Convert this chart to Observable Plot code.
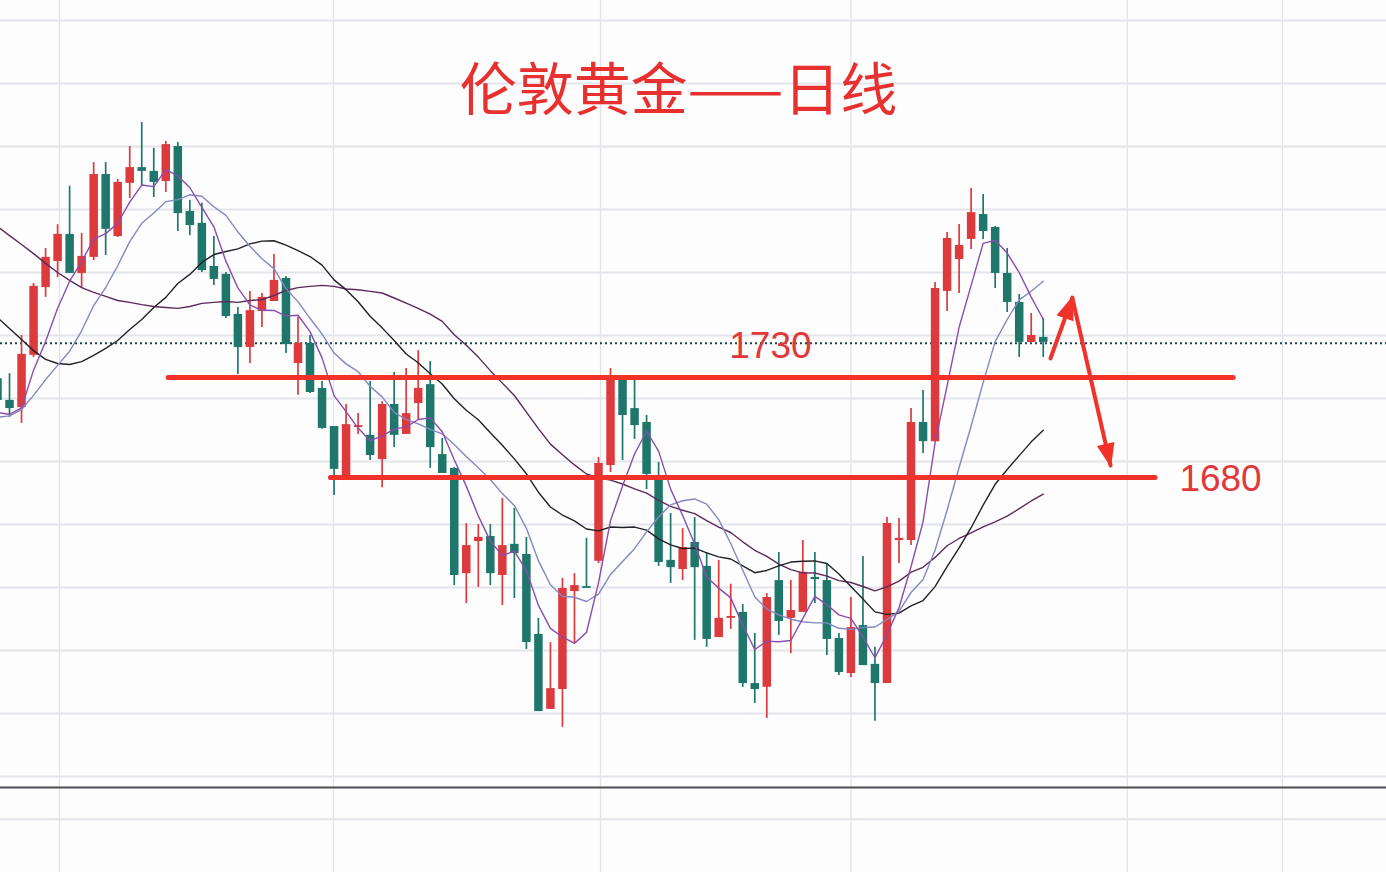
<!DOCTYPE html>
<html>
<head>
<meta charset="utf-8">
<script src="https://cdn.jsdelivr.net/npm/d3@7"></script>
<script src="https://cdn.jsdelivr.net/npm/@observablehq/plot@0.6"></script>
<style>
  html, body { margin: 0; padding: 0; background: #fdfdfe; overflow: hidden; }
  #chart svg { display: block; }
</style>
</head>
<body>
<div id="chart"></div>
<script>
// ---------------- data ----------------
const title = "伦敦黄金——日线";

const open = [1726.3,1719.4,1717.1,1733.7,1755.2,1763.5,1772.1,1759.7,1764.8,1791.1,
  1771.4,1788.3,1793.3,1792.1,1788.9,1800.0,1779.4,1775.6,1761.9,1759.4,
  1746.7,1736.2,1747.6,1750.8,1758.1,1731.1,1737.5,1723.2,1711.1,1694.9,
  1710.8,1708.3,1700.6,1718.1,1708.6,1718.4,1724.4,1702.2,1697.8,1664.4,
  1674.6,1676.2,1663.8,1673.7,1670.5,1645.1,1621.3,1627.6,1658.7,1660.2,
  1668.3,1698.7,1726.0,1716.8,1712.4,1694.9,1668.6,1665.7,1674.3,1666.7,
  1644.1,1650.2,1652.1,1629.5,1628.3,1662.2,1650.2,1652.1,1663.2,1662.2,
  1643.8,1632.7,1647.9,1635.6,1629.5,1674.9,1674.9,1712.4,1706.3,1754.0,
  1764.1,1770.5,1778.4,1774.3,1759.7,1750.5,1737.8,1739.4];
const high = [1728.3,1727.9,1740.0,1756.5,1767.6,1775.2,1787.4,1772.4,1794.9,1794.9,
  1789.5,1800.0,1807.6,1799.4,1801.6,1801.3,1782.9,1782.0,1771.4,1760.0,
  1748.9,1754.0,1753.3,1765.7,1758.7,1745.7,1740.0,1725.4,1711.1,1718.1,
  1715.2,1725.4,1719.0,1728.3,1729.5,1735.2,1731.7,1707.3,1698.1,1680.3,
  1680.0,1680.0,1688.3,1685.1,1675.9,1650.2,1642.5,1662.9,1664.4,1675.6,
  1701.3,1729.5,1726.0,1725.7,1714.6,1699.7,1683.5,1678.7,1682.2,1671.1,
  1668.6,1661.0,1654.6,1645.4,1658.1,1671.1,1662.2,1674.9,1671.1,1667.3,
  1645.4,1656.8,1669.8,1641.0,1682.2,1681.9,1716.8,1722.5,1756.8,1772.7,
  1775.2,1786.7,1784.8,1774.6,1767.6,1753.0,1747.0,1745.4];
const low = [1717.8,1714.0,1712.1,1733.0,1752.1,1758.4,1759.7,1754.9,1763.8,1765.4,
  1771.1,1783.5,1787.6,1783.8,1785.4,1773.0,1771.7,1760.0,1755.9,1745.4,
  1727.6,1731.1,1742.5,1750.8,1734.3,1721.0,1721.6,1710.2,1689.2,1694.0,
  1708.6,1700.3,1691.7,1704.4,1708.6,1713.0,1697.8,1696.2,1660.6,1654.9,
  1660.0,1660.6,1654.3,1656.5,1640.3,1620.6,1621.3,1615.6,1642.5,1659.8,
  1667.6,1696.5,1700.3,1707.0,1691.1,1666.7,1661.3,1662.2,1643.2,1641.0,
  1644.1,1646.7,1628.3,1623.2,1618.4,1644.8,1639.0,1652.1,1654.9,1638.4,
  1632.1,1631.4,1635.2,1617.5,1629.5,1667.6,1673.3,1702.5,1706.3,1747.6,
  1753.3,1767.3,1770.5,1754.9,1747.3,1733.0,1737.8,1733.0];
const close = [1719.4,1716.8,1734.0,1755.6,1764.8,1772.1,1759.7,1765.1,1791.1,1773.7,
  1788.6,1793.3,1792.1,1788.6,1800.6,1778.7,1774.9,1760.6,1757.8,1746.0,
  1736.2,1747.9,1752.1,1757.5,1737.1,1737.5,1721.9,1710.5,1697.5,1711.7,
  1711.4,1701.9,1718.1,1708.3,1715.2,1723.2,1704.4,1696.2,1663.8,1673.3,
  1675.9,1664.4,1673.3,1670.8,1642.5,1620.6,1627.9,1659.7,1660.6,1659.8,
  1699.4,1726.7,1714.6,1711.4,1695.9,1667.9,1666.3,1672.7,1666.3,1643.5,
  1650.2,1650.8,1629.5,1627.6,1656.8,1649.2,1652.7,1664.8,1662.5,1643.5,
  1633.0,1647.3,1635.2,1629.5,1680.3,1675.6,1712.4,1706.3,1754.9,1770.8,
  1768.6,1779.0,1773.0,1759.7,1750.5,1737.8,1740.0,1737.8];

// moving-average values for the first candles
// (their windows reach back before the first visible candle)
const ma5Lead  = [1715.5,1715.0,1717.0,1729.0];
const ma10Lead = [1714.0,1714.5,1716.5,1721.0,1726.0,1730.5,1735.0,1741.5,1749.5];
const ma20Lead = [1745.7,1742.2,1738.7,1735.2,1732.4,1731.1,1730.8,1731.7,1733.7,1735.9,
  1738.4,1741.9,1745.1,1748.9,1752.1,1756.5,1759.4,1763.2,1765.7];
const ma30Lead = [1774.6,1771.7,1768.9,1766.0,1762.9,1760.0,1757.5,1755.2,1753.7,1752.4,
  1751.1,1750.5,1749.8,1749.2,1748.9,1748.6,1749.2,1750.2,1750.5,1750.8,
  1750.5,1751.1,1751.4,1752.7,1754.3,1755.2,1755.6,1755.9,1755.6];

const gridPrices = [1600,1620,1640,1660,1680,1700,1720,1740,1760,1780,1800,1820,1840];
const lowerPaneGrid = [1586.4];
const paneSeparator = 1596.5;
const monthGridIdx = [5.16, 27.95, 50.17, 71.0, 94.0, 106.9];
const lastPrice = 1737.5;

// hand-drawn annotations
const levelPrices = [1726.7, 1694.9];
const levelLabels = ["1730", "1680"];
const levelFromIdx = [14.2, 27.7];
const levelToIdx = [102.8, 96.3];
const labelIdx = [64.3, 101.75];
const labelPrice = [1732.7, 1690.5];
const arrowFromIdx = [87.6, 89.43];
const arrowFromPrice = [1732.7, 1751.75];
const arrowToIdx = [89.43, 92.6];
const arrowToPrice = [1752.06, 1698.73];

// ---------------- build ----------------
const W = 1386, H = 872;
const xDomain = [0.2496, 115.557];
const yDomain = [1569.52, 1846.35];
const pxPerIdx = W / (xDomain[1] - xDomain[0]);
const pxPerUnit = H / (yDomain[1] - yDomain[0]);

const RED = "#dc3a3c", TEAL = "#1f776b", LINE_RED = "#f0322b";

const candles = close.map((c, i) => {
  const o = open[i];
  let lo = Math.min(o, c), hi = Math.max(o, c);
  const minH = 1.8 / pxPerUnit;
  if (hi - lo < minH) { const m = (hi + lo) / 2; lo = m - minH / 2; hi = m + minH / 2; }
  return {i, o, h: high[i], l: low[i], c, lo, hi, col: c > o ? RED : TEAL};
});

function ma(n, lead) {
  return close.map((c, i) => {
    let v;
    if (i < n - 1) v = lead[i];
    else v = d3.mean(close.slice(i - n + 1, i + 1));
    return {i, v};
  });
}
const ma5 = ma(5, ma5Lead), ma10 = ma(10, ma10Lead), ma20 = ma(20, ma20Lead), ma30 = ma(30, ma30Lead);

const levels = levelPrices.map((p, k) => ({p, label: levelLabels[k], x1: levelFromIdx[k], x2: levelToIdx[k], lx: labelIdx[k], ly: labelPrice[k]}));
const arrows = arrowFromIdx.map((x1, k) => {
  const x2 = arrowToIdx[k], y1 = arrowFromPrice[k], y2 = arrowToPrice[k];
  const dx = (x2 - x1) * pxPerIdx, dy = -(y2 - y1) * pxPerUnit;
  const ang = Math.atan2(dx, -dy) * 180 / Math.PI;
  return {x1, y1, x2, y2, ang};
});
const headSymbol = {
  draw(ctx) { ctx.moveTo(0, -2); ctx.lineTo(-9, 22); ctx.lineTo(9, 22); ctx.closePath(); }
};

const chart = Plot.plot({
  width: W, height: H,
  marginTop: 0, marginBottom: 0, marginLeft: 0, marginRight: 0,
  style: {background: "#fdfdfe"},
  x: {domain: xDomain, axis: null},
  y: {domain: yDomain, axis: null},
  color: {type: "identity"},
  marks: [
    Plot.ruleX(monthGridIdx, {stroke: "#e2e4ea", strokeWidth: 1.3}),
    Plot.ruleY(gridPrices.concat(lowerPaneGrid), {stroke: "#e3e5ea", strokeWidth: 2}),
    Plot.ruleY([paneSeparator], {stroke: "#4d4d52", strokeWidth: 2}),
    Plot.ruleY([lastPrice], {stroke: "#16454e", strokeWidth: 2, strokeDasharray: "2,3"}),
    Plot.ruleX(candles, {x: "i", y1: "l", y2: "h", stroke: "col", strokeWidth: 1.7}),
    Plot.ruleX(candles, {x: "i", y1: "lo", y2: "hi", stroke: "col", strokeWidth: 8.5}),
    Plot.line(ma30, {x: "i", y: "v", stroke: "#5c2a5a", strokeWidth: 1.4}),
    Plot.line(ma20, {x: "i", y: "v", stroke: "#222226", strokeWidth: 1.4}),
    Plot.line(ma10, {x: "i", y: "v", stroke: "#8188c4", strokeWidth: 1.4}),
    Plot.line(ma5, {x: "i", y: "v", stroke: "#8a4cae", strokeWidth: 1.4}),
    Plot.link(levels, {x1: "x1", x2: "x2", y1: "p", y2: "p", stroke: LINE_RED, strokeWidth: 5, strokeLinecap: "round"}),
    Plot.text(levels, {x: "lx", y: "ly", text: "label", fill: "#e2383a", fontSize: 37,
      fontFamily: "Liberation Sans, Arial, sans-serif", textAnchor: "middle", lineAnchor: "bottom"}),
    Plot.link(arrows, {x1: "x1", y1: "y1", x2: "x2", y2: "y2", stroke: LINE_RED, strokeWidth: 4, strokeLinecap: "round"}),
    Plot.dot(arrows, {x: "x2", y: "y2", symbol: headSymbol, r: 10, fill: LINE_RED, stroke: "none", rotate: "ang"}),
    Plot.text([title], {frameAnchor: "top-left", dx: 678, dy: 91, text: d => d, fill: "#e8312f",
      fontSize: 57, fontFamily: "Noto Sans CJK SC, sans-serif", textAnchor: "middle", lineAnchor: "middle"})
  ]
});
document.getElementById("chart").appendChild(chart);
</script>
</body>
</html>
